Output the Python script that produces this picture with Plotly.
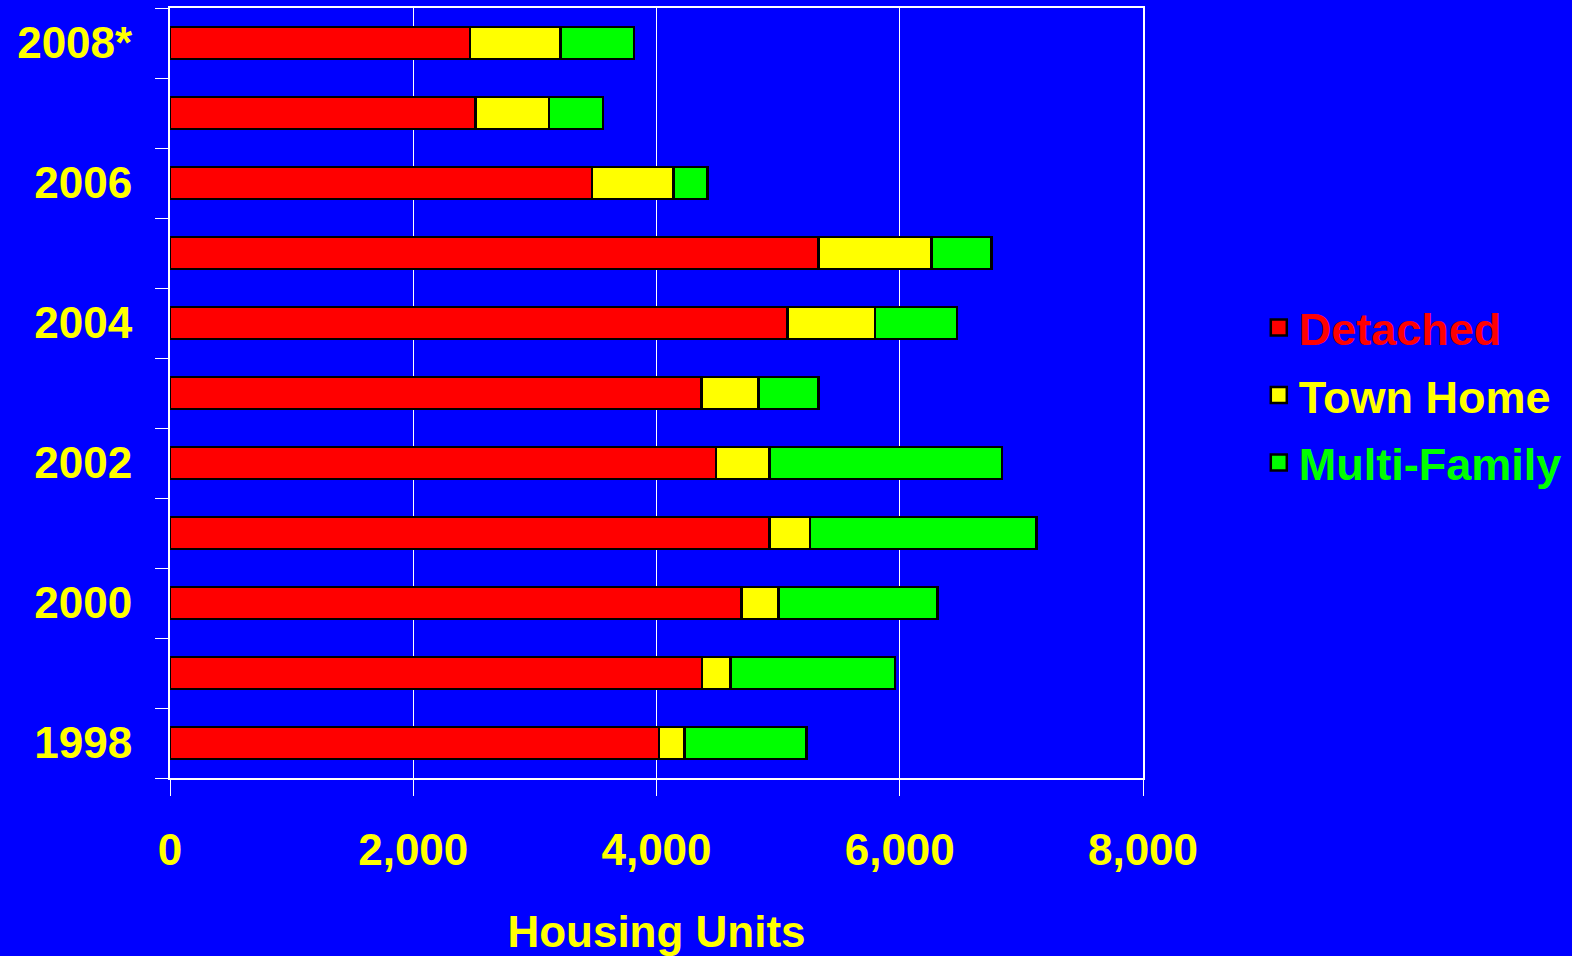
import plotly.graph_objects as go

years = [1998, 1999, 2000, 2001, 2002, 2003, 2004, 2005, 2006, 2007, 2008]
detached = [4020, 4375, 4700, 4930, 4490, 4370, 5075, 5330, 3470, 2510, 2465]
town_home = [210, 235, 305, 330, 440, 470, 720, 930, 670, 605, 745]
multi_family = [1005, 1350, 1305, 1865, 1910, 490, 675, 495, 280, 445, 605]

tick_years = [1998, 2000, 2002, 2004, 2006, 2008]
tick_text = ["1998", "2000", "2002", "2004", "2006", "2008*"]
boundaries = [y - 0.5 for y in years] + [years[-1] + 0.5]

series = [
    ("Detached", detached, "#FF0000"),
    ("Town Home", town_home, "#FFFF00"),
    ("Multi-Family", multi_family, "#00FF00"),
]

BLUE = "#0000FF"
FONT = "Liberation Sans, Arial, sans-serif"

fig = go.Figure()
for i, (name, vals, col) in enumerate(series):
    fig.add_trace(go.Bar(
        y=years, x=vals, orientation="h",
        name=name, showlegend=False, legendgroup=f"g{i}",
        marker=dict(color=col, line=dict(color="black", width=2.5)),
        width=0.46,
    ))
# legend entries (larger square swatches than the default bar swatch)
for i, (name, vals, col) in enumerate(series):
    fig.add_trace(go.Scatter(
        x=[None], y=[None], mode="markers",
        name=f'<span style="color:{col}">{name}</span>',
        legendgroup=f"g{i}", showlegend=True,
        marker=dict(symbol="square", size=16, color=col,
                    line=dict(color="black", width=2.5)),
    ))

fig.update_layout(
    barmode="stack",
    width=1572, height=956,
    paper_bgcolor=BLUE, plot_bgcolor=BLUE,
    margin=dict(l=170, r=429, t=8, b=178, autoexpand=False),
    font=dict(family=FONT, size=44, color="#FFFF00", weight="bold"),
    showlegend=True,
    legend=dict(
        x=1.119, xanchor="left", y=0.497, yanchor="middle",
        bgcolor="rgba(0,0,0,0)", font=dict(size=45, weight="bold"),
        tracegroupgap=6, traceorder="grouped", itemsizing="trace",
    ),
    xaxis=dict(
        range=[0, 8000], tickvals=[0, 2000, 4000, 6000, 8000],
        tickformat=",d", showgrid=True, gridcolor="white", gridwidth=1,
        showline=True, linecolor="white", linewidth=2, mirror=True,
        ticks="outside", ticklen=16, tickcolor="white", tickwidth=1,
        ticklabelstandoff=16, zeroline=False,
        title=dict(text="Housing Units", standoff=58,
                   font=dict(size=44, color="#FFFF00", weight="bold")),
        tickfont=dict(size=44, color="#FFFF00", weight="bold"),
        automargin=False,
    ),
    yaxis=dict(
        range=[1997.5, 2008.5], tickvals=tick_years, ticktext=tick_text,
        showgrid=False, zeroline=False,
        showline=True, linecolor="white", linewidth=2, mirror=True,
        ticks="", ticklabelstandoff=27,
        minor=dict(tickvals=boundaries, ticks="outside", ticklen=13,
                   tickcolor="white", tickwidth=1, showgrid=False),
        tickfont=dict(size=44, color="#FFFF00", weight="bold"),
        automargin=False,
    ),
)

fig.write_html("out.html")
